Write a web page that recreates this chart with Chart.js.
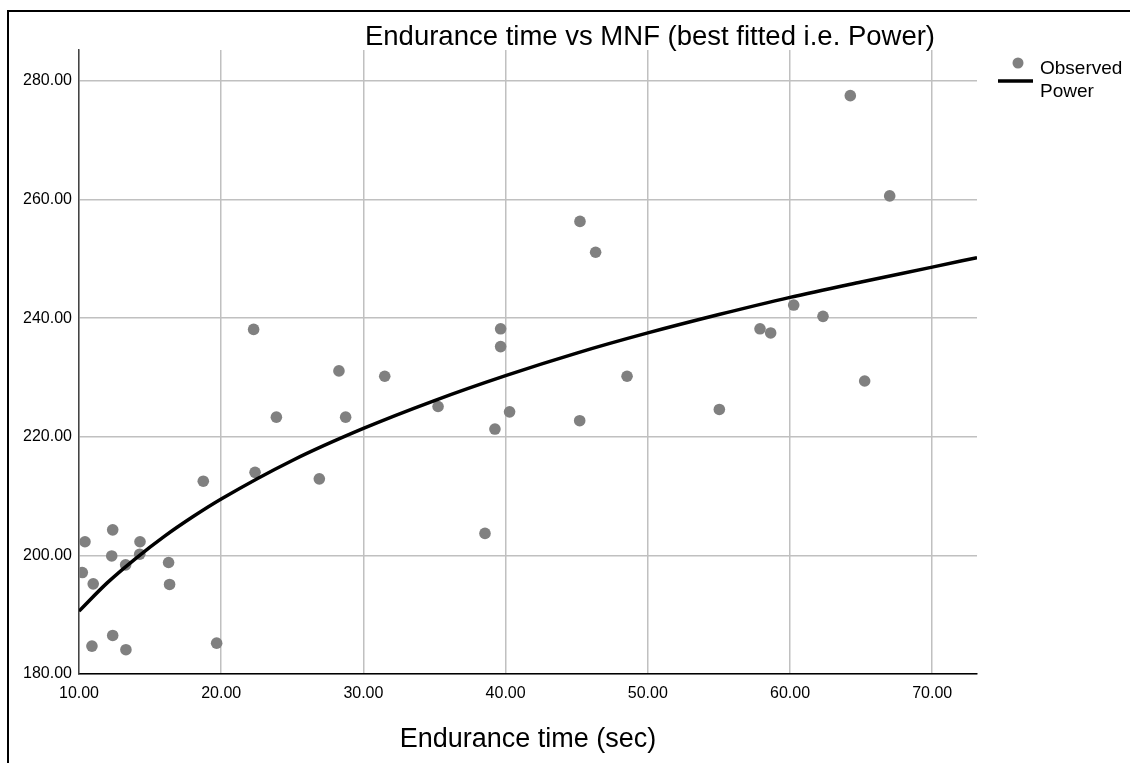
<!DOCTYPE html>
<html lang="en">
<head>
    <meta charset="UTF-8">
    <title>Endurance time vs MNF</title>
    <script src="https://cdn.jsdelivr.net/npm/chart.js"></script>
    <style>
        body { margin: 0; background: #fff; }
        #frame { position: absolute; left: 7px; top: 10px; width: 1200px; height: 800px; border: 2px solid #000; }
        #wrap { position: absolute; left: 0; top: 0; width: 1130px; height: 763px; }
    </style>
</head>
<body>
    <div id="frame"></div>
    <div id="wrap"><canvas id="mychart"></canvas></div>
    <script>
        // observed points (endurance time in sec, MNF)
        const enduranceTime = [10.23, 10.42, 11.0, 10.91, 12.37, 12.3, 12.37, 13.28, 13.3, 14.29,
                               14.27, 16.3, 16.37, 18.74, 19.68, 22.38, 23.88, 26.9, 28.75, 22.28,
                               28.28, 31.5, 35.25, 38.55, 39.25, 39.65, 39.65, 40.28, 45.23, 46.33,
                               45.21, 48.54, 55.03, 57.89, 58.64, 60.26, 62.32, 64.24, 65.25, 67.01];
        const mnf = [197.1, 202.3, 195.2, 184.7, 204.3, 199.9, 186.5, 198.4, 184.1, 202.3,
                     200.2, 198.8, 195.1, 212.5, 185.2, 214.0, 223.3, 212.9, 223.3, 238.1,
                     231.1, 230.2, 225.1, 203.7, 221.3, 238.2, 235.2, 224.2, 256.3, 251.1,
                     222.7, 230.2, 224.6, 238.2, 237.5, 242.2, 240.3, 277.5, 229.4, 260.6];

        // fitted power curve
        const powerX = [10, 12, 14, 16, 18, 20, 25, 30, 35, 40, 45, 50, 55, 60, 65, 70, 73.15];
        const powerY = [190.6, 195.4, 199.5, 203.2, 206.5, 209.5, 216.0, 221.4, 226.1, 230.3,
                        234.1, 237.5, 240.6, 243.5, 246.1, 248.6, 250.2];

        const xRange = [10, 73.15];
        const yRange = [180, 285.2];
        const tickStep = { x: 10, y: 20 };

        const chartTitle = 'Endurance time vs MNF (best fitted i.e. Power)';
        const xTitle = 'Endurance time (sec)';

        const font = 'Liberation Sans, Arial, sans-serif';

        // title + legend drawn by hand because they sit off-centre in the original
        const decor = {
            id: 'decor',
            afterDraw(chart) {
                const ctx = chart.ctx;
                ctx.save();
                ctx.fillStyle = '#000';
                ctx.font = '27.5px ' + font;
                ctx.textAlign = 'center';
                ctx.textBaseline = 'alphabetic';
                ctx.fillText(chartTitle, 650, 45);

                const ds = chart.data.datasets;
                ctx.font = '19px ' + font;
                ctx.textAlign = 'left';
                // Observed
                ctx.fillStyle = ds[0].backgroundColor;
                ctx.beginPath();
                ctx.arc(1018, 63, 5.5, 0, Math.PI * 2);
                ctx.fill();
                ctx.fillStyle = '#000';
                ctx.fillText(ds[0].label, 1040, 74);
                // Power
                ctx.strokeStyle = ds[1].borderColor;
                ctx.lineWidth = ds[1].borderWidth;
                ctx.beginPath();
                ctx.moveTo(998, 81);
                ctx.lineTo(1033, 81);
                ctx.stroke();
                ctx.fillText(ds[1].label, 1040, 97);
                ctx.restore();
            }
        };

        const fmt = v => Number(v).toFixed(2);

        new Chart(document.querySelector('#mychart'), {
            type: 'scatter',
            data: {
                datasets: [
                    {
                        label: 'Observed',
                        data: enduranceTime.map((x, i) => ({ x: x, y: mnf[i] })),
                        backgroundColor: '#808080',
                        borderWidth: 0,
                        pointRadius: 5.8,
                        order: 1
                    },
                    {
                        label: 'Power',
                        type: 'line',
                        data: powerX.map((x, i) => ({ x: x, y: powerY[i] })),
                        borderColor: '#000',
                        borderWidth: 3.5,
                        pointRadius: 0,
                        fill: false,
                        cubicInterpolationMode: 'monotone',
                        order: 0
                    }
                ]
            },
            plugins: [decor],
            options: {
                responsive: true,
                maintainAspectRatio: false,
                animation: false,
                layout: { padding: { top: 50, right: 153, bottom: 0, left: 0 } },
                plugins: {
                    legend: { display: false },
                    title: { display: false },
                    tooltip: { enabled: false }
                },
                scales: {
                    x: {
                        type: 'linear',
                        min: xRange[0],
                        max: xRange[1],
                        afterFit: s => { s.height = 89; },
                        grid: { color: '#c0c0c0', lineWidth: 1.5, drawTicks: false },
                        border: { color: '#000', width: 1.5 },
                        ticks: {
                            stepSize: tickStep.x,
                            includeBounds: false,
                            padding: 10,
                            color: '#000',
                            font: { family: font, size: 16 },
                            callback: fmt
                        },
                        title: {
                            display: true,
                            text: xTitle,
                            color: '#000',
                            font: { family: font, size: 27 },
                            padding: { top: 0, bottom: 7 }
                        }
                    },
                    y: {
                        min: yRange[0],
                        max: yRange[1],
                        afterFit: s => { s.width = 79; },
                        grid: { color: '#c0c0c0', lineWidth: 1.5, drawTicks: false },
                        border: { color: '#444', width: 1.5 },
                        ticks: {
                            stepSize: tickStep.y,
                            includeBounds: false,
                            padding: 7,
                            color: '#000',
                            font: { family: font, size: 16 },
                            callback: fmt
                        }
                    }
                }
            }
        });
    </script>
</body>
</html>
